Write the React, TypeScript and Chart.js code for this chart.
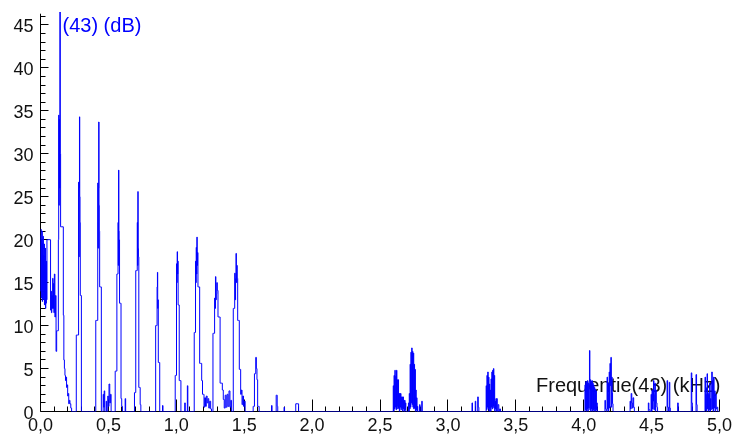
import React, { useEffect, useRef } from 'react';
import { Chart, registerables } from 'chart.js';

Chart.register(...registerables);

type Pt = [number, number]; // [frequency kHz, level dB]

// ---- spectrum values, per band ----
const noiseBand: Pt[] = [
  [0.000, 20.5], [0.002, 14.0], [0.004, 21.2], [0.006, 13.2], [0.008, 20.0], [0.010, 15.5],
  [0.012, 21.0], [0.014, 12.8], [0.016, 19.6], [0.018, 14.2], [0.020, 20.4], [0.022, 13.0],
  [0.024, 18.2], [0.026, 15.5], [0.028, 19.5], [0.030, 12.4], [0.032, 17.0], [0.034, 13.6],
  [0.036, 19.0], [0.038, 12.0], [0.040, 16.2], [0.042, 12.6], [0.044, 17.5], [0.046, 13.0],
  [0.049, 20.0], [0.072, 20.0], [0.076, 11.8], [0.079, 14.0], [0.082, 11.5], [0.085, 13.5],
  [0.088, 12.0], [0.091, 15.5], [0.094, 12.0], [0.097, 14.9], [0.100, 11.5], [0.104, 16.0],
  [0.108, 11.0], [0.112, 13.5], [0.117, 7.0], [0.121, 9.4], [0.130, 9.4],
];
const fundamental: Pt[] = [
  [0.133, 20.0], [0.135, 34.5], [0.137, 24.0], [0.139, 34.0], [0.141, 26.0], [0.1445, 46.5],
  [0.147, 30.0], [0.149, 21.5], [0.166, 21.5], [0.170, 11.2], [0.174, 6.0], [0.178, 5.0],
  [0.182, 4.2], [0.186, 3.6], [0.190, 4.0], [0.194, 2.8], [0.198, 3.1], [0.202, 1.8],
  [0.206, 2.1], [0.210, 0.9], [0.214, 1.3], [0.220, 0.9], [0.226, 0.4], [0.232, 0],
];
const harmonic2: Pt[] = [
  [0.262, 0], [0.265, 8.9], [0.279, 8.9], [0.282, 26.7], [0.284, 18.0], [0.286, 26.0],
  [0.288, 34.3], [0.290, 25.0], [0.292, 22.0], [0.294, 13.5], [0.299, 13.5], [0.303, 0],
];
const harmonic3: Pt[] = [
  [0.405, 0], [0.409, 10.6], [0.420, 10.6], [0.423, 26.6], [0.425, 19.0], [0.427, 26.0],
  [0.430, 33.7], [0.432, 24.0], [0.434, 21.0], [0.437, 14.5], [0.446, 14.5], [0.450, 0],
  [0.460, 0], [0.463, 2.0], [0.467, 0.5], [0.471, 2.4], [0.475, 0], [0.482, 0], [0.485, 1.2],
  [0.489, 0], [0.494, 0], [0.497, 1.8], [0.501, 0.6], [0.508, 3.2], [0.512, 1.0],
  [0.518, 2.0], [0.522, 0],
];
const harmonic4: Pt[] = [
  [0.548, 0], [0.552, 4.7], [0.561, 4.7], [0.564, 16.0], [0.570, 16.0], [0.572, 22.0],
  [0.574, 17.0], [0.576, 28.1], [0.578, 21.0], [0.580, 20.0], [0.584, 12.6], [0.591, 12.6],
  [0.595, 1.5], [0.601, 0.6], [0.606, 0], [0.622, 0], [0.625, 1.5], [0.629, 0],
];
const harmonic5: Pt[] = [
  [0.690, 0], [0.694, 2.2], [0.700, 2.2], [0.703, 16.4], [0.711, 16.4], [0.714, 22.0],
  [0.716, 17.0], [0.718, 25.6], [0.720, 19.0], [0.722, 18.0], [0.726, 2.8], [0.732, 2.8],
  [0.736, 0.8], [0.742, 0],
];
const harmonic6: Pt[] = [
  [0.846, 0], [0.850, 10.0], [0.857, 10.0], [0.860, 14.5], [0.862, 16.2], [0.864, 12.0],
  [0.866, 13.0], [0.869, 5.7], [0.876, 5.7], [0.880, 0], [0.897, 0], [0.900, 0.7], [0.904, 0],
];
const harmonic7: Pt[] = [
  [0.990, 0], [0.994, 4.2], [1.000, 4.2], [1.003, 17.2], [1.005, 15.0], [1.008, 18.6],
  [1.010, 16.0], [1.012, 17.5], [1.015, 12.4], [1.020, 12.4], [1.023, 3.6], [1.032, 3.6],
  [1.036, 0], [1.060, 0], [1.064, 1.0], [1.068, 0], [1.080, 0], [1.083, 3.0], [1.087, 0],
];
const harmonic8: Pt[] = [
  [1.130, 0], [1.134, 9.2], [1.140, 9.2], [1.143, 17.5], [1.145, 15.0], [1.148, 19.1],
  [1.150, 16.0], [1.153, 20.3], [1.155, 17.0], [1.158, 18.5], [1.161, 14.5], [1.170, 14.5],
  [1.174, 5.6], [1.184, 5.6], [1.190, 3.6], [1.196, 2.0], [1.202, 2.0], [1.206, 0.5],
  [1.212, 1.6], [1.218, 0.6], [1.224, 1.8], [1.230, 1.0], [1.236, 1.5], [1.242, 0.4],
  [1.250, 1.2], [1.256, 0.3], [1.262, 0],
];
const harmonic9: Pt[] = [
  [1.268, 0], [1.272, 9.1], [1.280, 9.1], [1.284, 13.2], [1.287, 12.0], [1.290, 15.7],
  [1.293, 13.0], [1.296, 13.7], [1.300, 15.0], [1.304, 14.1], [1.310, 11.0], [1.320, 11.0],
  [1.325, 3.3], [1.336, 3.3], [1.342, 2.5], [1.350, 1.4], [1.356, 0.4], [1.364, 1.9],
  [1.370, 0.5], [1.378, 2.0], [1.384, 0.6], [1.392, 2.4], [1.398, 0.5], [1.404, 1.3],
  [1.410, 0],
];
const harmonic10: Pt[] = [
  [1.418, 0], [1.421, 12.0], [1.428, 12.0], [1.432, 16.1], [1.435, 13.0], [1.438, 15.5],
  [1.441, 18.4], [1.444, 15.0], [1.447, 17.0], [1.450, 15.5], [1.454, 10.6], [1.462, 10.6],
  [1.466, 4.9], [1.472, 4.9], [1.476, 2.0], [1.482, 2.5], [1.486, 0.8], [1.492, 1.8],
  [1.498, 0.6], [1.504, 1.2], [1.510, 0],
];
const harmonic11: Pt[] = [
  [1.564, 0], [1.568, 0.6], [1.574, 0.6], [1.577, 4.4], [1.583, 4.4], [1.587, 6.3],
  [1.592, 5.0], [1.596, 3.7], [1.602, 0.6], [1.608, 0.6], [1.612, 0],
];
const bandAround1_8: Pt[] = [
  [1.700, 0], [1.703, 0.7], [1.707, 0], [1.734, 0], [1.737, 1.9], [1.741, 1.9], [1.745, 0.6],
  [1.749, 0], [1.792, 0], [1.795, 0.5], [1.799, 0], [1.878, 0], [1.881, 0.9], [1.899, 0.9],
  [1.902, 0],
];
const bandAround2_6: Pt[] = [
  [2.596, 0], [2.599, 3.0], [2.602, 0], [2.605, 4.2], [2.608, 0.3], [2.611, 4.8],
  [2.614, 0.5], [2.617, 4.1], [2.620, 0.2], [2.623, 4.8], [2.626, 0.6], [2.629, 3.7],
  [2.632, 0.3], [2.635, 3.7], [2.638, 0.4], [2.641, 2.1], [2.644, 0], [2.647, 2.1],
  [2.650, 0.5], [2.653, 2.1], [2.656, 0.2], [2.659, 1.7], [2.662, 0.4], [2.665, 1.7],
  [2.668, 0], [2.671, 1.7], [2.674, 0.3], [2.677, 1.3], [2.680, 0], [2.683, 1.3],
  [2.686, 0.2], [2.689, 1.0], [2.692, 0],
];
const bandAround2_75: Pt[] = [
  [2.708, 0], [2.711, 1.0], [2.714, 0], [2.717, 2.1], [2.720, 0.3], [2.723, 5.5],
  [2.726, 0.5], [2.729, 6.9], [2.732, 1.0], [2.735, 7.4], [2.738, 0.8], [2.741, 7.0],
  [2.744, 0.5], [2.747, 6.8], [2.750, 0.3], [2.753, 5.5], [2.756, 0.4], [2.759, 4.9],
  [2.762, 0], [2.765, 2.5], [2.768, 0.2], [2.771, 1.6], [2.774, 0], [2.777, 0.6],
  [2.780, 0], [2.790, 0], [2.793, 0.8], [2.797, 0], [2.806, 0], [2.809, 1.2], [2.813, 0],
];
const bandAround3_3: Pt[] = [
  [3.176, 0], [3.179, 1.0], [3.183, 0], [3.200, 0], [3.203, 1.2], [3.207, 0], [3.218, 0],
  [3.221, 1.7], [3.226, 0.5], [3.230, 0], [3.280, 0], [3.283, 3.0], [3.286, 0.2],
  [3.289, 4.2], [3.292, 0.5], [3.295, 4.6], [3.298, 0.3], [3.301, 4.0], [3.304, 0],
  [3.307, 3.2], [3.310, 0.4], [3.313, 2.5], [3.316, 0], [3.319, 3.8], [3.322, 0.5],
  [3.325, 4.6], [3.328, 0.3], [3.331, 4.8], [3.334, 0.6], [3.337, 5.0], [3.340, 0.4],
  [3.343, 4.2], [3.346, 0], [3.349, 1.2], [3.352, 0.3], [3.355, 1.5], [3.358, 0],
  [3.361, 1.5], [3.366, 0], [3.372, 0.8], [3.378, 0], [3.384, 0.3], [3.390, 0],
];
const bandAround4_05: Pt[] = [
  [4.008, 0], [4.011, 3.1], [4.014, 0.2], [4.017, 3.5], [4.020, 0], [4.023, 3.4],
  [4.026, 0.3], [4.029, 3.6], [4.032, 0], [4.035, 3.3], [4.038, 0.4], [4.041, 3.5],
  [4.044, 7.1], [4.047, 0.2], [4.050, 3.7], [4.053, 0], [4.056, 3.5], [4.059, 0.3],
  [4.062, 3.6], [4.065, 0], [4.068, 3.3], [4.071, 0.2], [4.074, 3.1], [4.077, 0],
  [4.080, 2.8], [4.083, 0.3], [4.086, 2.6], [4.089, 0], [4.092, 2.4], [4.095, 0.2],
  [4.098, 1.0], [4.101, 0],
];
const bandAround4_2: Pt[] = [
  [4.155, 0], [4.158, 1.3], [4.162, 0.3], [4.170, 0], [4.174, 4.0], [4.177, 0.3],
  [4.180, 3.3], [4.183, 0], [4.186, 2.0], [4.189, 4.6], [4.192, 0.4], [4.195, 5.6],
  [4.198, 3.0], [4.202, 6.3], [4.205, 0.5], [4.208, 4.0], [4.211, 2.2], [4.214, 0.9],
  [4.218, 0],
];
const bandAround4_5: Pt[] = [
  [4.340, 0], [4.343, 1.2], [4.347, 0.3], [4.352, 2.1], [4.356, 1.0], [4.360, 0.4],
  [4.366, 1.6], [4.370, 0.5], [4.376, 0], [4.474, 0], [4.478, 1.0], [4.482, 0.2],
  [4.494, 0], [4.498, 2.0], [4.501, 0], [4.505, 2.5], [4.508, 0.3], [4.512, 1.2],
  [4.516, 3.6], [4.519, 0.2], [4.522, 2.0], [4.526, 3.3], [4.529, 0], [4.532, 2.5],
  [4.537, 1.0], [4.542, 0.5], [4.546, 0], [4.612, 0], [4.616, 3.6], [4.620, 0.5],
  [4.628, 0], [4.632, 3.4], [4.636, 0.4], [4.640, 0], [4.690, 0], [4.694, 1.0], [4.698, 0],
];
const bandAround4_9: Pt[] = [
  [4.790, 0], [4.794, 4.5], [4.798, 1.0], [4.802, 0], [4.825, 0], [4.829, 4.3],
  [4.833, 0.8], [4.837, 0], [4.892, 0], [4.895, 4.0], [4.898, 0.2], [4.901, 2.0],
  [4.904, 0], [4.907, 2.8], [4.910, 4.4], [4.913, 0.3], [4.916, 2.2], [4.919, 0],
  [4.922, 2.0], [4.926, 0.2], [4.929, 3.3], [4.932, 0], [4.935, 1.5], [4.938, 0.2],
  [4.941, 3.0], [4.945, 4.6], [4.948, 0.3], [4.951, 3.6], [4.955, 0], [4.958, 4.0],
  [4.962, 0.4], [4.966, 2.4], [4.970, 0], [4.974, 2.0], [4.978, 0.3], [4.984, 0.5],
  [4.990, 0], [5.000, 0],
];

const bands: Pt[][] = [
  noiseBand, fundamental, harmonic2, harmonic3, harmonic4, harmonic5, harmonic6, harmonic7,
  harmonic8, harmonic9, harmonic10, harmonic11, bandAround1_8, bandAround2_6, bandAround2_75,
  bandAround3_3, bandAround4_05, bandAround4_2, bandAround4_5, bandAround4_9,
];

// ---- axes ----
const xTickValues = [0, 0.5, 1.0, 1.5, 2.0, 2.5, 3.0, 3.5, 4.0, 4.5, 5.0];
const xTickLabels = ['0,0', '0,5', '1,0', '1,5', '2,0', '2,5', '3,0', '3,5', '4,0', '4,5', '5,0'];
const yTickValues = [0, 5, 10, 15, 20, 25, 30, 35, 40, 45];
const yTickLabels = ['0', '5', '10', '15', '20', '25', '30', '35', '40', '45'];
const xMin = 0;
const xMax = 5;
const yMin = 0;
const yMax = 46.5;
const yAxisTop = 46.3;
const yTitle = '(43) (dB)';
const xTitle = 'Frequentie(43) (kHz)';

const FONT = '"Liberation Sans", Arial, sans-serif';

const axesPlugin = {
  id: 'spectrumAxes',
  beforeDatasetsDraw(chart: any) {
    const { ctx, scales } = chart;
    const xs = scales.x;
    const ys = scales.y;
    const crisp = (v: number) => Math.floor(v) + 0.5;
    const x0 = crisp(xs.getPixelForValue(xMin));
    const x1 = crisp(xs.getPixelForValue(xMax));
    const y0 = crisp(ys.getPixelForValue(yMin));
    const yTop = ys.getPixelForValue(yAxisTop);

    ctx.save();
    // titles (drawn under the data)
    ctx.font = '20px ' + FONT;
    ctx.textBaseline = 'alphabetic';
    ctx.fillStyle = '#0000ff';
    ctx.textAlign = 'left';
    ctx.fillText(yTitle, x0 + 22, yTop + 18);
    ctx.fillStyle = '#111111';
    ctx.textAlign = 'right';
    ctx.fillText(xTitle, x1 + 1, y0 - 20);

    // axis lines and ticks
    ctx.strokeStyle = '#000000';
    ctx.lineWidth = 1;
    ctx.beginPath();
    ctx.moveTo(x0, y0);
    ctx.lineTo(x0, yTop);
    ctx.moveTo(x0, y0);
    ctx.lineTo(x1, y0);
    for (let i = 0; i <= 50; i++) {
      const px = crisp(xs.getPixelForValue(i / 10));
      const len = i % 5 === 0 ? 12 : 5;
      ctx.moveTo(px, y0);
      ctx.lineTo(px, y0 - len);
    }
    for (let v = 1; v <= 46; v++) {
      const py = crisp(ys.getPixelForValue(v));
      const len = v % 5 === 0 ? 8 : 5;
      ctx.moveTo(x0, py);
      ctx.lineTo(x0 + len, py);
    }
    ctx.stroke();

    // tick labels
    ctx.fillStyle = '#111111';
    ctx.font = '18px ' + FONT;
    ctx.textAlign = 'center';
    ctx.textBaseline = 'alphabetic';
    xTickValues.forEach((v, i) => {
      ctx.fillText(xTickLabels[i], xs.getPixelForValue(v), y0 + 19);
    });
    ctx.textAlign = 'right';
    yTickValues.forEach((v, i) => {
      ctx.fillText(yTickLabels[i], x0 - 7, ys.getPixelForValue(v) + 7);
    });
    ctx.restore();
  },
};

export default function App() {
  const canvasRef = useRef<HTMLCanvasElement | null>(null);

  useEffect(() => {
    const canvas = canvasRef.current;
    if (!canvas) return;
    const points = bands.flat().map(([f, db]) => ({ x: f, y: db }));
    const chart = new Chart(canvas, {
      type: 'line',
      data: {
        datasets: [
          {
            data: points,
            borderColor: '#0000ff',
            borderWidth: 1,
            pointRadius: 0,
            fill: false,
            stepped: 'middle',
            tension: 0,
          },
        ],
      },
      options: {
        animation: false,
        responsive: false,
        events: [],
        layout: { padding: { left: 40.5, right: 16.5, top: 12, bottom: 29.5 } },
        plugins: { legend: { display: false }, tooltip: { enabled: false } },
        scales: {
          x: { type: 'linear', min: xMin, max: xMax, display: false },
          y: { type: 'linear', min: yMin, max: yMax, display: false },
        },
      },
      plugins: [axesPlugin],
    } as any);
    return () => chart.destroy();
  }, []);

  return (
    <div style={{ position: 'fixed', left: 0, top: 0, width: 736, height: 441, background: '#ffffff' }}>
      <canvas ref={canvasRef} width={736} height={441} style={{ display: 'block' }} />
    </div>
  );
}
